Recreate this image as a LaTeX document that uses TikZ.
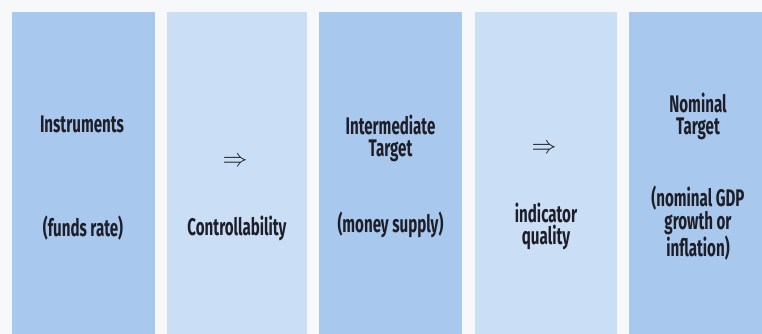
\documentclass[tikz,border=0pt]{standalone}
\usepackage{fontspec}
\setmainfont{Fira Sans}[FakeStretch=0.63]
\definecolor{paper}{RGB}{247,248,250}
\definecolor{deepcol}{RGB}{168,200,238}
\definecolor{palecol}{RGB}{202,223,246}
\definecolor{ink}{RGB}{30,30,40}
\begin{document}
\begin{tikzpicture}[x=1pt,y=-1pt,
  label/.style={text=ink,align=center,inner sep=0pt,font=\fontsize{24}{22}\selectfont\bfseries},
  arrowsym/.style={text=ink,inner sep=0pt,font=\fontsize{26}{26}\selectfont}]
  % page and margins
  \fill[paper] (0,0) rectangle (762,334);
  \useasboundingbox (0,0) rectangle (762,334);
  % the five columns
  \fill[deepcol] (12,12) rectangle (155,334);
  \fill[palecol] (167,12) rectangle (307,334);
  \fill[deepcol] (319,12) rectangle (462,334);
  \fill[palecol] (475,12) rectangle (617,334);
  \fill[deepcol] (629,12) rectangle (762,334);
  % column 1
  \node[label] (instr) at (82,124) {Instruments};
  \node[label] (funds) at (83,228) {(funds rate)};
  % column 2
  \node[arrowsym] (arrA) at (235,162) {$\Rightarrow$};
  \node[label] (ctrl) at (237,228) {Controllability};
  % column 3
  \node[label] (inter) at (390.5,138) {Intermediate\\Target};
  \node[label] (money) at (390.5,225) {(money supply)};
  % column 4
  \node[arrowsym] (arrB) at (544,149) {$\Rightarrow$};
  \node[label] (indq) at (546,226) {indicator\\quality};
  % column 5
  \node[label] (nomt) at (698,116) {Nominal\\Target};
  \node[label] (gdp) at (698,223) {(nominal GDP\\growth or\\inflation)};
\end{tikzpicture}
\end{document}
